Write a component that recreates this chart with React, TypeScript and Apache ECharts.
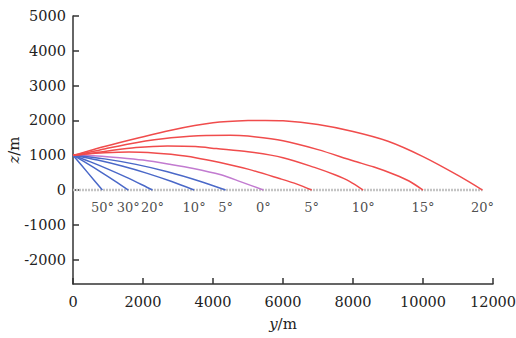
import React, { useEffect, useRef } from "react";
import * as echarts from "echarts";

// Trajectory data: [y (m), z (m)]
const up20: number[][] = [[0,1000],[300,1080],[900,1250],[1800,1480],[2800,1720],[4000,1930],[5000,1995],[5500,2000],[6000,1990],[7000,1880],[8000,1680],[9000,1400],[10000,960],[11000,420],[11700,0]];
const up15: number[][] = [[0,1000],[300,1050],[900,1180],[1800,1360],[2800,1500],[3800,1570],[4500,1575],[5000,1550],[6000,1415],[7000,1160],[8000,840],[8600,660],[9200,440],[9600,260],[10000,0]];
const up10: number[][] = [[0,1000],[300,1030],[900,1110],[1800,1220],[2700,1265],[3500,1250],[4100,1190],[5000,1100],[6000,930],[6900,650],[7500,430],[7900,250],[8290,0]];
const up5: number[][] = [[0,1000],[300,1030],[900,1070],[1600,1090],[2400,1060],[2800,1025],[3500,930],[4200,790],[5000,600],[5900,330],[6400,170],[6820,0]];
const level0: number[][] = [[0,1000],[700,980],[1340,930],[2000,860],[2771,739],[3440,620],[4200,445],[4800,235],[5440,0]];
const down5: number[][] = [[0,1000],[900,895],[1800,737],[2700,526],[3600,261],[4360,0]];
const down10: number[][] = [[0,1000],[700,861],[1400,689],[2100,486],[2800,250],[3460,0]];
const down20: number[][] = [[0,1000],[500,809],[1000,602],[1500,378],[2000,136],[2270,0]];
const down30: number[][] = [[0,1000],[400,763],[800,516],[1200,258],[1580,0]];
const down50: number[][] = [[0,1000],[420,500],[840,0]];
const ground: number[][] = [[0,0],[11700,0]];

const angleLabels = ["50°","30°","20°","10°","5°","0°","5°","10°","15°","20°"];
const labelX = [840,1580,2270,3460,4360,5440,6820,8290,10000,11700];
const labelZ = -490;

const yTicks = [-2000,-1000,0,1000,2000,3000,4000,5000];

const RED = "#f04c4c";
const BLUE = "#4a68c8";
const PURPLE = "#c27bd0";
const FONT = "DejaVu Serif";

export default function App() {
  const ref = useRef<HTMLDivElement>(null);
  useEffect(() => {
    document.body.style.margin = "0";
    const chart = echarts.init(ref.current!, undefined, { renderer: "svg" });
    const mk = (data: number[][], color: string) => ({
      type: "line",
      data,
      showSymbol: false,
      smooth: 0.3,
      lineStyle: { color, width: 1.5 },
      z: 3,
    });
    const fmt = (v: number) => String(v);
    const nameStyle = {
      fontFamily: FONT, fontSize: 15, color: "#222",
      rich: { i: { fontFamily: FONT, fontSize: 15, fontStyle: "italic", color: "#222" } },
    };
    chart.setOption({
      animation: false,
      textStyle: { fontFamily: FONT },
      grid: { left: 73, right: 23, top: 16, bottom: 54, containLabel: false, outerBoundsMode: "none" },
      xAxis: {
        type: "value",
        min: 0,
        max: 12000,
        interval: 2000,
        name: "{i|y}/m",
        nameLocation: "middle",
        nameGap: 32,
        nameMoveOverlap: false,
        nameTextStyle: nameStyle,
        axisLine: { onZero: false, lineStyle: { color: "#333", width: 1.5 } },
        axisTick: { inside: true, length: 6, lineStyle: { color: "#333", width: 1.5 } },
        axisLabel: { fontFamily: FONT, fontSize: 14.5, color: "#222", margin: 10, formatter: fmt },
        splitLine: { show: false },
      },
      yAxis: {
        type: "value",
        min: -2700,
        max: 5000,
        name: "{i|z}/m",
        nameLocation: "middle",
        nameGap: 52,
        nameRotate: 90,
        nameMoveOverlap: false,
        nameTextStyle: nameStyle,
        axisLine: { show: true, lineStyle: { color: "#333", width: 1.5 } },
        axisTick: { show: true, inside: true, length: 6, customValues: yTicks, lineStyle: { color: "#333", width: 1.5 } },
        axisLabel: { fontFamily: FONT, fontSize: 14.5, color: "#222", margin: 7, customValues: yTicks, formatter: fmt },
        splitLine: { show: false },
      },
      series: [
        {
          type: "line",
          data: ground,
          showSymbol: false,
          lineStyle: { color: "#c4c4c4", width: 2.5, type: [2, 1] },
          z: 2,
        },
        mk(level0, PURPLE),
        mk(down5, BLUE),
        mk(down10, BLUE),
        mk(down20, BLUE),
        mk(down30, BLUE),
        mk(down50, BLUE),
        mk(up5, RED),
        mk(up10, RED),
        mk(up15, RED),
        mk(up20, RED),
        {
          type: "scatter",
          symbolSize: 0,
          data: labelX.map((x, i) => ({ value: [x, labelZ], name: angleLabels[i] })),
          label: {
            show: true,
            position: "inside",
            formatter: (p: any) => p.name,
            fontFamily: FONT,
            fontSize: 13,
            color: "#222",
          },
          z: 5,
        },
      ],
    });
    return () => chart.dispose();
  }, []);
  return <div ref={ref} style={{ width: 516, height: 338 }} />;
}
